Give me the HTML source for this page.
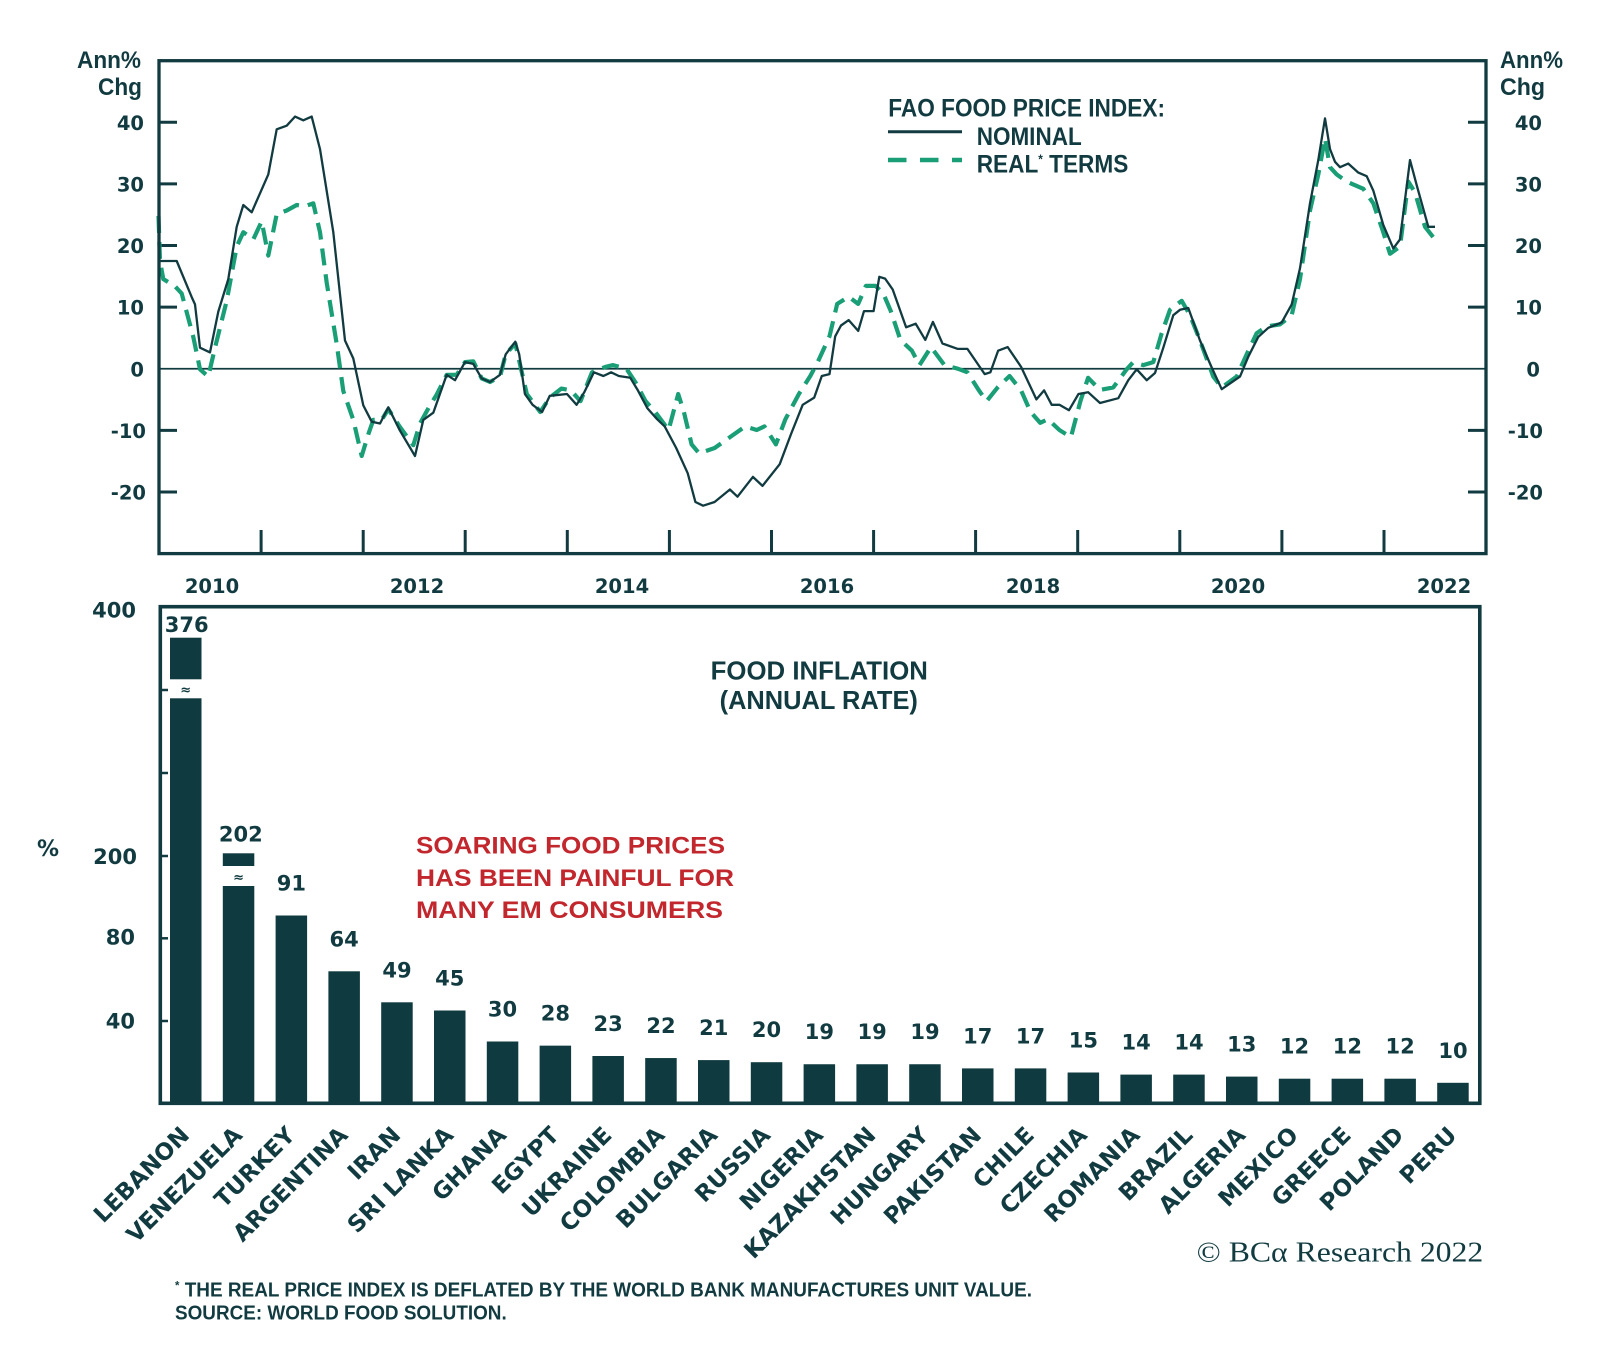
<!DOCTYPE html>
<html><head><meta charset="utf-8"><style>
html,body{margin:0;padding:0;background:#fff}
svg{display:block}
.t{font-family:"DejaVu Sans","Liberation Sans",sans-serif;font-weight:bold;fill:#113b40}
.l{font-family:"Liberation Sans",sans-serif;font-weight:bold;fill:#113b40}
</style></head><body>
<svg width="1600" height="1351" viewBox="0 0 1600 1351" xmlns="http://www.w3.org/2000/svg">
<rect width="1600" height="1351" fill="#fff"/>

<!-- ===== TOP CHART ===== -->
<g stroke="#113b40" fill="none">
<line x1="159" y1="368.75" x2="1486" y2="368.75" stroke-width="1.8"/>
<g stroke-width="3">
<line x1="159" y1="122.3" x2="177" y2="122.3"/><line x1="159" y1="183.9" x2="177" y2="183.9"/>
<line x1="159" y1="245.5" x2="177" y2="245.5"/><line x1="159" y1="307.1" x2="177" y2="307.1"/>
<line x1="159" y1="430.4" x2="177" y2="430.4"/><line x1="159" y1="492" x2="177" y2="492"/>
<line x1="1468" y1="122.3" x2="1486" y2="122.3"/><line x1="1468" y1="183.9" x2="1486" y2="183.9"/>
<line x1="1468" y1="245.5" x2="1486" y2="245.5"/><line x1="1468" y1="307.1" x2="1486" y2="307.1"/>
<line x1="1468" y1="430.4" x2="1486" y2="430.4"/><line x1="1468" y1="492" x2="1486" y2="492"/>
<line x1="261.1" y1="530" x2="261.1" y2="554"/><line x1="363.2" y1="530" x2="363.2" y2="554"/>
<line x1="465.2" y1="530" x2="465.2" y2="554"/><line x1="567.3" y1="530" x2="567.3" y2="554"/>
<line x1="669.4" y1="530" x2="669.4" y2="554"/><line x1="771.5" y1="530" x2="771.5" y2="554"/>
<line x1="873.6" y1="530" x2="873.6" y2="554"/><line x1="975.6" y1="530" x2="975.6" y2="554"/>
<line x1="1077.7" y1="530" x2="1077.7" y2="554"/><line x1="1179.8" y1="530" x2="1179.8" y2="554"/>
<line x1="1281.9" y1="530" x2="1281.9" y2="554"/><line x1="1384" y1="530" x2="1384" y2="554"/>
</g>
</g>

<!-- series -->
<polyline fill="none" stroke="#1a9e76" stroke-width="4.2" stroke-dasharray="17 9" stroke-linejoin="round" points="158.5,215.9 160,261 163.3,279.1 175,286.3 181.7,293.5 193.3,336.9 200,369.3 208.3,376.6 215,347.7 226.7,300.8 236.7,246.6 243.3,232.2 253.3,239.4 261.7,221.3 268.3,255.6 276.7,214.1 286.7,210.5 296.7,205 305,206.2 313.3,203.3 320,232.2 326.7,282.7 336.7,344 343.3,391 353.3,419.9 361.7,456 368.3,434.3 373.3,419.9 381.7,419.9 388.3,409.1 400,427.1 413.3,445.2 420,423.5 430,405.4 436.7,394.6 446.7,374.8 456.7,374.8 465,362.1 473.3,361.3 481.7,378.4 490,382 500,376.6 505.7,354.3 515.3,343.5 521,368.7 526.8,394 540.2,412 549.8,397.6 561.3,388.6 570.9,390.4 580.5,401.2 592,372.3 605.4,366.9 613,365.1 626.4,368.7 636,383.2 645.6,401.2 655.2,412 668.6,430 678.2,394 683.9,412 691.6,444.4 699.2,453.4 714.6,448 729.9,437.2 745.2,426.4 756.7,430 764.4,426.4 775.9,444.4 785.4,419.2 798.9,394 810.3,376 818,361.5 829.5,336.3 837.2,303.9 848.7,296.7 858.2,303.9 865.9,285.9 875.5,285.9 883.1,293.1 890.8,311.1 900.4,339.9 911.9,350.7 919.5,365.1 931,347.1 944.4,365.1 957.8,368.7 967.4,372.3 978.9,390.4 986.6,401.2 998.1,386.8 1009.6,376 1021.1,390.4 1030.6,412 1040.2,422.8 1047.9,419.2 1059.4,430 1070.9,437.2 1080.4,401.2 1088.1,377.8 1100,390 1113.3,387.4 1126.7,369.3 1133.3,362.1 1143.3,365.1 1153.3,362.1 1161.7,333.2 1170,309.8 1181.7,300.8 1190,315.2 1200,340.5 1213.3,376.6 1221.7,387.4 1236.7,376.6 1246.7,354.3 1256.7,333.2 1266.7,326.4 1280,324.4 1291.7,315.2 1300,279.1 1310,210.5 1318.3,174.4 1325,138.3 1330,167.2 1336.7,174.4 1346.7,181.6 1363.3,188.8 1373.3,203.3 1383.3,232.2 1390,253.8 1400,246.6 1408.3,181.6 1415,192.4 1425,226.8 1435,239.4"/>
<polyline fill="none" stroke="#113b40" stroke-width="2.3" stroke-linejoin="round" points="159,261 176.7,261 191.7,297.1 195,304.4 200,347.7 210,352.4 218.3,311.6 228.3,279.1 236.7,226.8 243.3,205 251.7,212.3 268.3,174.4 276.7,129.3 286.7,125.7 295,116.6 303.3,120.3 311.7,116.6 320,149.1 333.3,232.2 345,340.5 353.3,358.5 363.3,405.4 371.7,421.7 380,423.5 388.3,407.3 400,430.7 415,456 423.3,419.9 433.3,412.7 446.7,374.8 455,380.2 465,362.1 473.3,363.9 481.7,378.4 490,382 500,374.8 505.7,354.3 515.3,341.7 519.2,354.3 524.9,394 532.6,404.8 542.1,412 549.8,395.8 567,394 576.6,404.8 584.3,392.2 593.9,372.3 603.4,376 611.1,372.3 618.8,376 630.3,377.8 637.9,390.4 647.5,408.4 657.1,419.2 664.7,426.4 676.2,448 687.7,473.2 695.4,502 703.1,505.7 714.6,502 729.9,489.5 737.5,496.7 752.9,476.9 762.5,485.9 779.7,464.2 791.2,433.6 802.7,404.8 814.2,397.6 821.8,376 829.5,374.1 835.2,336.3 841,325.5 848.7,320.1 858.2,330.9 864,311.1 873.6,311.1 879.3,276.8 885.1,278.6 892.7,289.5 906.1,327.3 915.7,323.7 925.3,339.9 932.9,321.9 942.5,343.5 957.8,348.9 967.4,348.9 984.7,374.1 990.4,372.3 998.1,350.7 1007.7,347.1 1021.1,366.9 1036.4,399.4 1044.1,390.4 1051.7,404.8 1059.4,404.8 1069,410.2 1078.5,394 1088.1,392.2 1100,403 1118.3,398.2 1128.3,380.2 1136.7,369.3 1146.7,380.2 1155,373 1163.3,347.7 1173.3,315.2 1180,309.8 1188.3,308 1200,340.5 1211.7,367.5 1221.7,389.2 1240,376.6 1248.3,356.7 1258.3,336.9 1268.3,327.8 1281.7,322.4 1291.7,304.4 1300,268.3 1310,203.3 1318.3,160 1325,118.4 1330,149.1 1335,161.8 1340,167.2 1348.3,163.6 1358.3,172.6 1366.7,176.2 1373.3,190.6 1383.3,225 1393.3,248.4 1400,239.4 1410,160 1416.7,185.2 1428.3,226.8 1435,226.8"/>

<rect x="159" y="60.7" width="1327" height="492.9" fill="none" stroke="#113b40" stroke-width="3.3"/>

<!-- legend -->
<line x1="888" y1="131.7" x2="962" y2="131.7" stroke="#113b40" stroke-width="3"/>
<line x1="888" y1="160" x2="962" y2="160" stroke="#1a9e76" stroke-width="4.5" stroke-dasharray="18.5 13.5"/>
<text class="l" x="888.3" y="116.7" font-size="25" textLength="276.7" lengthAdjust="spacingAndGlyphs">FAO FOOD PRICE INDEX:</text>
<text class="l" x="976.7" y="145" font-size="25" textLength="105" lengthAdjust="spacingAndGlyphs">NOMINAL</text>
<text class="l" x="976.7" y="172.3" font-size="25" textLength="151.6" lengthAdjust="spacingAndGlyphs">REAL<tspan font-size="13" dy="-9">*</tspan><tspan dy="9"> TERMS</tspan></text>

<!-- axis titles -->
<text class="l" x="141" y="68" font-size="24" text-anchor="end" textLength="64" lengthAdjust="spacingAndGlyphs">Ann%</text>
<text class="l" x="142" y="95" font-size="24" text-anchor="end" textLength="44" lengthAdjust="spacingAndGlyphs">Chg</text>
<text class="l" x="1500" y="68" font-size="24" textLength="63" lengthAdjust="spacingAndGlyphs">Ann%</text>
<text class="l" x="1500" y="95" font-size="24" textLength="45" lengthAdjust="spacingAndGlyphs">Chg</text>

<!-- y tick labels -->
<g class="t" font-size="19.5" text-anchor="end">
<text x="144" y="130">40</text><text x="144" y="191.5">30</text><text x="144" y="253">20</text>
<text x="144" y="314.7">10</text><text x="144" y="376.3">0</text><text x="146" y="438">-10</text><text x="146" y="499.6">-20</text>
<text x="1542" y="130">40</text><text x="1542" y="191.5">30</text><text x="1542" y="253">20</text>
<text x="1542" y="314.7">10</text><text x="1540" y="376.3">0</text><text x="1543" y="438">-10</text><text x="1543" y="499.6">-20</text>
</g>
<g class="t" font-size="19.5" text-anchor="middle">
<text x="212" y="593">2010</text><text x="417" y="593">2012</text><text x="622" y="593">2014</text>
<text x="827" y="593">2016</text><text x="1033" y="593">2018</text><text x="1238" y="593">2020</text><text x="1444" y="593">2022</text>
</g>

<!-- ===== BOTTOM CHART ===== -->
<g fill="#0f3a3f">
<rect x="170" y="698.3" width="31.5" height="405.2"/><rect x="170" y="637.7" width="31.5" height="41.6"/>
<rect x="222.8" y="886" width="31.5" height="217.5"/><rect x="222.8" y="853.3" width="31.5" height="12.7"/>
<rect x="275.6" y="915.5" width="31.5" height="188"/>
<rect x="328.4" y="971.3" width="31.5" height="132.2"/>
<rect x="381.2" y="1002.3" width="31.5" height="101.2"/>
<rect x="434" y="1010.5" width="31.5" height="93"/>
<rect x="486.8" y="1041.5" width="31.5" height="62"/>
<rect x="539.6" y="1045.65" width="31.5" height="57.85"/>
<rect x="592.4" y="1056" width="31.5" height="47.5"/>
<rect x="645.2" y="1058.05" width="31.5" height="45.45"/>
<rect x="698" y="1060.1" width="31.5" height="43.4"/>
<rect x="750.8" y="1062.2" width="31.5" height="41.3"/>
<rect x="803.6" y="1064.25" width="31.5" height="39.25"/>
<rect x="856.4" y="1064.25" width="31.5" height="39.25"/>
<rect x="909.2" y="1064.25" width="31.5" height="39.25"/>
<rect x="962" y="1068.4" width="31.5" height="35.1"/>
<rect x="1014.8" y="1068.4" width="31.5" height="35.1"/>
<rect x="1067.6" y="1072.5" width="31.5" height="31"/>
<rect x="1120.4" y="1074.6" width="31.5" height="28.9"/>
<rect x="1173.2" y="1074.6" width="31.5" height="28.9"/>
<rect x="1226" y="1076.6" width="31.5" height="26.9"/>
<rect x="1278.8" y="1078.7" width="31.5" height="24.8"/>
<rect x="1331.6" y="1078.7" width="31.5" height="24.8"/>
<rect x="1384.4" y="1078.7" width="31.5" height="24.8"/>
<rect x="1437.2" y="1082.8" width="31.5" height="20.7"/>
</g>
<g font-family="DejaVu Sans,sans-serif" font-weight="bold" font-size="13" fill="#0f3a3f" text-anchor="middle">
<text x="185.75" y="694">≈</text><text x="238.55" y="881.5">≈</text>
</g>

<g stroke="#113b40" stroke-width="2.5">
<line x1="160" y1="690" x2="168" y2="690"/><line x1="160" y1="773" x2="168" y2="773"/>
<line x1="160" y1="856" x2="168" y2="856"/><line x1="160" y1="938.3" x2="168" y2="938.3"/>
<line x1="160" y1="1021" x2="168" y2="1021"/>
</g>
<rect x="160.3" y="606.7" width="1319.5" height="496.6" fill="none" stroke="#113b40" stroke-width="3.6"/>

<!-- bottom axis labels -->
<g class="t" font-size="21" text-anchor="end">
<text x="136" y="617.5">400</text><text x="137" y="864">200</text><text x="135" y="944.5">80</text><text x="135" y="1028.5">40</text>
</g>
<text class="t" x="48" y="856" font-size="22" text-anchor="middle" font-weight="normal">%</text>

<!-- bar value labels -->
<g class="t" font-size="21" text-anchor="middle">
<text x="186.7" y="632">376</text>
<text x="240.8" y="841.7">202</text>
<text x="291.35" y="890.5">91</text>
<text x="344.15" y="946.3">64</text>
<text x="396.95" y="977.3">49</text>
<text x="449.75" y="985.5">45</text>
<text x="502.55" y="1016.5">30</text>
<text x="555.35" y="1020.6">28</text>
<text x="608.15" y="1031">23</text>
<text x="660.95" y="1033">22</text>
<text x="713.75" y="1035.1">21</text>
<text x="766.55" y="1037.2">20</text>
<text x="819.35" y="1039.2">19</text>
<text x="872.15" y="1039.2">19</text>
<text x="924.95" y="1039.2">19</text>
<text x="977.75" y="1043.4">17</text>
<text x="1030.55" y="1043.4">17</text>
<text x="1083.35" y="1047.5">15</text>
<text x="1136.15" y="1049.6">14</text>
<text x="1188.95" y="1049.6">14</text>
<text x="1241.75" y="1051.6">13</text>
<text x="1294.55" y="1053.7">12</text>
<text x="1347.35" y="1053.7">12</text>
<text x="1400.15" y="1053.7">12</text>
<text x="1452.95" y="1057.8">10</text>
</g>

<!-- titles -->
<text class="l" x="710.7" y="679.3" font-size="25.5" textLength="217.2" lengthAdjust="spacingAndGlyphs">FOOD INFLATION</text>
<text class="l" x="719.6" y="709" font-size="25.5" textLength="198.3" lengthAdjust="spacingAndGlyphs">(ANNUAL RATE)</text>
<g font-family="Liberation Sans,sans-serif" font-weight="bold" font-size="24.5" fill="#c1272d">
<text x="416" y="853.3" textLength="309" lengthAdjust="spacingAndGlyphs">SOARING FOOD PRICES</text>
<text x="416" y="886" textLength="318" lengthAdjust="spacingAndGlyphs">HAS BEEN PAINFUL FOR</text>
<text x="416" y="918" textLength="307" lengthAdjust="spacingAndGlyphs">MANY EM CONSUMERS</text>
</g>

<!-- country labels -->
<g class="t" font-size="23" text-anchor="end">
<text transform="translate(190.75,1136.5) rotate(-45)">LEBANON</text>
<text transform="translate(243.55,1136.5) rotate(-45)">VENEZUELA</text>
<text transform="translate(296.35,1136.5) rotate(-45)">TURKEY</text>
<text transform="translate(349.15,1136.5) rotate(-45)">ARGENTINA</text>
<text transform="translate(401.95,1136.5) rotate(-45)">IRAN</text>
<text transform="translate(454.75,1136.5) rotate(-45)">SRI LANKA</text>
<text transform="translate(507.55,1136.5) rotate(-45)">GHANA</text>
<text transform="translate(560.35,1136.5) rotate(-45)">EGYPT</text>
<text transform="translate(613.15,1136.5) rotate(-45)">UKRAINE</text>
<text transform="translate(665.95,1136.5) rotate(-45)">COLOMBIA</text>
<text transform="translate(718.75,1136.5) rotate(-45)">BULGARIA</text>
<text transform="translate(771.55,1136.5) rotate(-45)">RUSSIA</text>
<text transform="translate(824.35,1136.5) rotate(-45)">NIGERIA</text>
<text transform="translate(877.15,1136.5) rotate(-45)">KAZAKHSTAN</text>
<text transform="translate(929.95,1136.5) rotate(-45)">HUNGARY</text>
<text transform="translate(982.75,1136.5) rotate(-45)">PAKISTAN</text>
<text transform="translate(1035.55,1136.5) rotate(-45)">CHILE</text>
<text transform="translate(1088.35,1136.5) rotate(-45)">CZECHIA</text>
<text transform="translate(1141.15,1136.5) rotate(-45)">ROMANIA</text>
<text transform="translate(1193.95,1136.5) rotate(-45)">BRAZIL</text>
<text transform="translate(1246.75,1136.5) rotate(-45)">ALGERIA</text>
<text transform="translate(1299.55,1136.5) rotate(-45)">MEXICO</text>
<text transform="translate(1352.35,1136.5) rotate(-45)">GREECE</text>
<text transform="translate(1405.15,1136.5) rotate(-45)">POLAND</text>
<text transform="translate(1457.95,1136.5) rotate(-45)">PERU</text>
</g>

<!-- copyright & footnotes -->
<text x="1196.7" y="1261.7" font-family="Liberation Serif,serif" font-size="28" fill="#113b40" textLength="286.6" lengthAdjust="spacingAndGlyphs">© BCα Research 2022</text>
<text class="l" x="175" y="1296.7" font-size="20" textLength="857" lengthAdjust="spacingAndGlyphs"><tspan font-size="12" dy="-7">*</tspan><tspan dy="7"> THE REAL PRICE INDEX IS DEFLATED BY THE WORLD BANK MANUFACTURES UNIT VALUE.</tspan></text>
<text class="l" x="175" y="1319.3" font-size="20" textLength="331.7" lengthAdjust="spacingAndGlyphs">SOURCE: WORLD FOOD SOLUTION.</text>
</svg>
</body></html>
